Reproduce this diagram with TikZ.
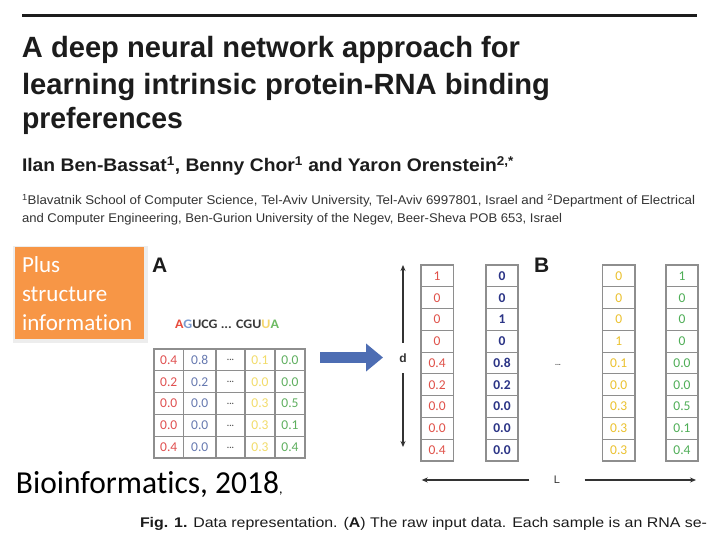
\documentclass[tikz,border=0pt]{standalone}
\usepackage{fontspec}
\usepackage{graphicx}
\setmainfont{Liberation Sans}
\newfontfamily\carlito[Ligatures=NoCommon]{Carlito}
\usetikzlibrary{arrows.meta}
\definecolor{ttl}{HTML}{1C1C1C}
\definecolor{txtgray}{HTML}{333333}
\definecolor{oran}{HTML}{F79646}
\definecolor{arrblue}{HTML}{4D6DB3}
\definecolor{gridC}{HTML}{8E8E8E}
\definecolor{aR}{HTML}{E05050}
\definecolor{aB}{HTML}{6679B0}
\definecolor{aD}{HTML}{555555}
\definecolor{aY}{HTML}{F2DC6A}
\definecolor{aG}{HTML}{5FAF5F}
\definecolor{bR}{HTML}{E0524A}
\definecolor{bN}{HTML}{2B3486}
\definecolor{bY}{HTML}{EBC12E}
\definecolor{bG}{HTML}{4FAE57}
\definecolor{sR}{HTML}{E84B3C}
\definecolor{sB}{HTML}{7A9AD0}
\definecolor{sD}{HTML}{3A3A3A}
\definecolor{sY}{HTML}{F5D76E}
\definecolor{sG}{HTML}{6DBB63}
\definecolor{dimC}{HTML}{333333}
\newcommand\fitw[2]{\resizebox{#1}{\height}{#2}}
\tikzset{
  txt/.style={inner sep=0pt, outer sep=0pt, anchor=base west},
  acell/.style={draw=gridC, line width=1.1pt, minimum height=21.8pt, inner sep=0pt,
    font={\carlito\fontsize{13.5}{14}\selectfont}},
  bcell/.style={draw=gridC, line width=1.1pt, minimum height=21.78pt, inner sep=0pt,
    font={\carlito\fontsize{13.5}{14}\selectfont}},
  dimarrow/.style={draw=dimC, line width=1.3pt, -{Stealth[length=6pt,width=5pt]}},
  platxt/.style={txt, text=white, font={\carlito\fontsize{23}{24}\selectfont}},
}
\begin{document}
\begin{tikzpicture}[x=1pt,y=-1pt]
\useasboundingbox[fill=white] (0,0) rectangle (720,540);
% top rule
\coordinate (ruleL) at (22,16);
\coordinate (ruleR) at (697,16);
\draw[ttl, line width=3pt] (ruleL) -- (ruleR);
% title
\node[txt, text=ttl] (t1) at (22,58) {\fontsize{29.3}{30}\selectfont\bfseries\fitw{498pt}{A deep neural network approach for}};
\node[txt, text=ttl] (t2) at (22,95) {\fontsize{29.3}{30}\selectfont\bfseries\fitw{528pt}{learning intrinsic protein-RNA binding}};
\node[txt, text=ttl] (t3) at (22,129) {\fontsize{29.3}{30}\selectfont\bfseries\fitw{161pt}{preferences}};
% authors
\node[txt, text=ttl] (auth) at (22,172) {\fontsize{18.2}{19}\selectfont\bfseries\fitw{492pt}{Ilan Ben-Bassat\textsuperscript{1}, Benny Chor\textsuperscript{1} and Yaron Orenstein\textsuperscript{2,*}}};
\node[txt, text=txtgray] (aff1) at (22,205) {\fontsize{12.6}{13}\selectfont\fitw{673pt}{\textsuperscript{1}Blavatnik School of Computer Science, Tel-Aviv University, Tel-Aviv 6997801, Israel and \textsuperscript{2}Department of Electrical}};
\node[txt, text=txtgray] (aff2) at (22,223) {\fontsize{12.6}{13}\selectfont\fitw{540pt}{and Computer Engineering, Ben-Gurion University of the Negev, Beer-Sheva POB 653, Israel}};
% orange box
\fill[gray!14] (13,246) rectangle (148,343);
\node[fill=oran, minimum width=129pt, minimum height=92pt, inner sep=0pt, anchor=north west] (plusbox) at (15,247) {};
\node[platxt] (pl1) at (22,272) {Plus};
\node[platxt] (pl2) at (22,301) {structure};
\node[platxt] (pl3) at (22,330) {information};
% labels A, B
\node[txt, text=ttl, font={\bfseries\fontsize{21}{21}\selectfont}] (labA) at (152,272) {A};
\node[txt, text=ttl, font={\bfseries\fontsize{21}{21}\selectfont}] (labB) at (534,272) {B};
% sequence
\node[txt, text=sD] (seq) at (175,328) {\carlito\bfseries\fontsize{13}{13}\selectfont\fitw{104pt}{\textcolor{sR}{A}\textcolor{sB}{G}UCG ... CGU\textcolor{sY}{U}\textcolor{sG}{A}}};
% matrix A
\foreach \y/\a/\b/\c/\d [count=\i] in {359.9/0.4/0.8/0.1/0.0, 381.7/0.2/0.2/0.0/0.0, 403.5/0.0/0.0/0.3/0.5, 425.3/0.0/0.0/0.3/0.1, 447.1/0.4/0.0/0.3/0.4} {
  \node[acell, minimum width=29.5pt, text=aR] (A-\i-1) at (168.75,\y) {\a};
  \node[acell, minimum width=32.5pt, text=aB] (A-\i-2) at (199.75,\y) {\b};
  \node[acell, minimum width=29pt, text=aD] (A-\i-3) at (230.5,\y) {\raisebox{-2pt}{\fontsize{9}{9}\selectfont\bfseries ...}};
  \node[acell, minimum width=30pt, text=aY] (A-\i-4) at (260,\y) {\c};
  \node[acell, minimum width=30pt, text=aG] (A-\i-5) at (290,\y) {\d};
}
% blue arrow
\coordinate (arrS) at (320,357.5);
\coordinate (arrE) at (383,357.5);
\draw[arrblue, line width=10.5pt, -{Triangle[length=17pt,width=27pt]}] (arrS) -- (arrE);
% d arrow
\node[inner sep=0pt, minimum height=30pt, font={\bfseries\fontsize{12}{12}\selectfont}, text=dimC] (dlab) at (403,358) {d};
\coordinate (dtop) at (403,265);
\coordinate (dbot) at (403,447);
\draw[dimarrow] (dlab) -- (dtop);
\draw[dimarrow] (dlab) -- (dbot);
% column vectors
\foreach \a/\b/\c/\d [count=\i] in {1/0/0/1, 0/0/0/0, 0/1/0/0, 0/0/1/0, 0.4/0.8/0.1/0.0, 0.2/0.2/0.0/0.0, 0.0/0.0/0.3/0.5, 0.0/0.0/0.3/0.1, 0.4/0.0/0.3/0.4} {
  \pgfmathsetmacro\yy{265+21.78*(\i-0.5)}
  \node[bcell, minimum width=32.3pt, text=bR] (B-\i-1) at (437.15,\yy) {\a};
  \node[bcell, minimum width=32pt, text=bN, font={\carlito\bfseries\fontsize{13.5}{14}\selectfont}] (B-\i-2) at (502,\yy) {\b};
  \node[bcell, minimum width=32.5pt, text=bY] (B-\i-3) at (618.75,\yy) {\c};
  \node[bcell, minimum width=32pt, text=bG] (B-\i-4) at (682,\yy) {\d};
}
\node[inner sep=0pt, text=aD, font={\fontsize{7}{7}\selectfont\bfseries}] (gapdots) at (558,365) {...};
% L arrow
\node[inner sep=0pt, minimum width=55pt, font={\fontsize{11}{11}\selectfont}, text=dimC] (Llab) at (557,480) {L};
\coordinate (Lleft) at (421.7,480);
\coordinate (Lright) at (696,480);
\draw[dimarrow] (Llab) -- (Lleft);
\draw[dimarrow] (Llab) -- (Lright);
% journal
\node[txt, text=black] (journal) at (16,493) {\carlito\fontsize{32}{32}\selectfont\fitw{263pt}{Bioinformatics, 2018}\fontsize{14}{14}\selectfont,};
% caption
\node[txt, text=ttl] (caption) at (140,527) {\fontsize{14}{14}\selectfont\fitw{567pt}{\textbf{Fig. 1.} Data representation. (\textbf{A}) The raw input data. Each sample is an RNA se-}};
\end{tikzpicture}
\end{document}
